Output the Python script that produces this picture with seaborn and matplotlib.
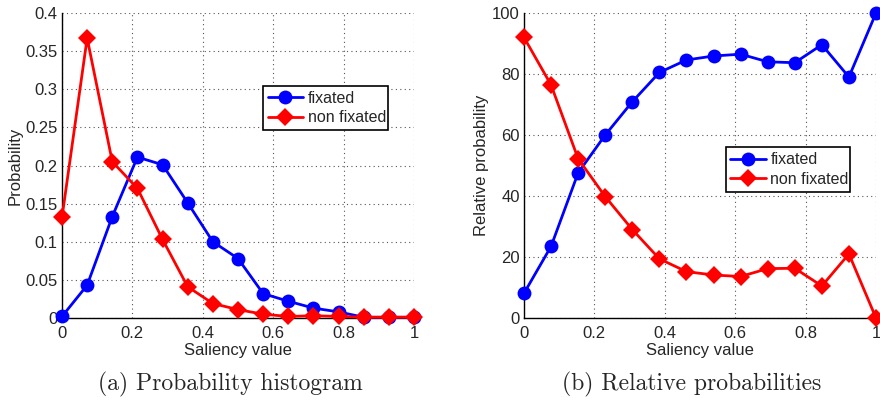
import matplotlib
matplotlib.use("Agg")
import matplotlib.pyplot as plt
import numpy as np
import pandas as pd
import seaborn as sns

# (a) probability histogram, 15 bins
hist_x = np.linspace(0, 1, 15)
hist_fixated = [0.002, 0.043, 0.133, 0.211, 0.201, 0.151, 0.100, 0.078, 0.032,
                0.022, 0.013, 0.008, 0.001, 0.001, 0.001]
hist_non_fixated = [0.132, 0.367, 0.205, 0.170, 0.103, 0.041, 0.019, 0.011, 0.005,
                    0.002, 0.003, 0.002, 0.001, 0.001, 0.001]

# (b) relative probabilities, 14 bins
rel_x = np.linspace(0, 1, 14)
rel_fixated = [8.1, 23.5, 47.6, 60.0, 70.9, 80.5, 84.6, 85.9, 86.5, 84.0, 83.7, 89.6, 79.0, 100.0]
rel_non_fixated = [92.0, 76.4, 52.2, 39.8, 29.0, 19.4, 15.2, 14.1, 13.6, 16.2, 16.3, 10.5, 21.0, 0.0]

labels = ['fixated', 'non fixated']
caption_a = '(a) Probability histogram'
caption_b = '(b) Relative probabilities'


def draw(ax, x, fix, nonfix, ylabel, yticks, yticklabels, ylim, legend_box):
    df = pd.concat([
        pd.DataFrame({'x': x, 'y': fix, 'Type': labels[0]}),
        pd.DataFrame({'x': x, 'y': nonfix, 'Type': labels[1]}),
    ], ignore_index=True)
    sns.lineplot(data=df[df['Type'] == labels[0]], x='x', y='y', ax=ax, color='#0000ff',
                 marker='o', markersize=10, markeredgewidth=0, linewidth=2,
                 label=labels[0], clip_on=False, zorder=3)
    sns.lineplot(data=df[df['Type'] == labels[1]], x='x', y='y', ax=ax, color='#ff0000',
                 marker='D', markersize=9, markeredgewidth=0, linewidth=2,
                 label=labels[1], clip_on=False, zorder=3)

    ax.set_xlim(0, 1)
    ax.set_ylim(*ylim)
    ax.set_xticks([0, 0.2, 0.4, 0.6, 0.8, 1])
    ax.set_xticklabels(['0', '0.2', '0.4', '0.6', '0.8', '1'])
    ax.set_yticks(yticks)
    ax.set_yticklabels(yticklabels)
    ax.grid(True, linestyle=(0, (1, 3)), color='#555555', linewidth=0.8)
    ax.tick_params(direction='in', length=4, labelsize=12, color='black')
    ax.tick_params(axis='x', pad=6)
    ax.tick_params(axis='y', pad=3)
    for side in ['top', 'right']:
        ax.spines[side].set_visible(False)
    for side in ['left', 'bottom']:
        ax.spines[side].set_color('black')
        ax.spines[side].set_linewidth(1.0)
    ax.set_xlabel('Saliency value', fontsize=12, labelpad=1)
    ax.set_ylabel(ylabel, fontsize=12, labelpad=2)
    leg = ax.legend(loc='lower left', bbox_to_anchor=legend_box, mode='expand',
                    fontsize=11.5, frameon=True, fancybox=False, framealpha=1,
                    edgecolor='black', borderpad=0.3, handlelength=2.2,
                    handletextpad=0.3, labelspacing=0.3, borderaxespad=0)
    leg.get_frame().set_linewidth(1.2)


sns.set_style("white")
plt.rcParams['font.family'] = ['Liberation Sans', 'DejaVu Sans']

fig = plt.figure(figsize=(8.8, 4.01), dpi=100)
ax1 = fig.add_axes([62 / 880, 83 / 401, 352 / 880, 305 / 401])
ax2 = fig.add_axes([524 / 880, 83 / 401, 352 / 880, 305 / 401])

draw(ax1, hist_x, hist_fixated, hist_non_fixated, 'Probability',
     np.arange(0, 0.41, 0.05), ['0', '0.05', '0.1', '0.15', '0.2', '0.25', '0.3', '0.35', '0.4'],
     (0, 0.4), (0.571, 0.616, 0.355, 0.164))
draw(ax2, rel_x, rel_fixated, rel_non_fixated, 'Relative probability',
     np.arange(0, 101, 20), ['0', '20', '40', '60', '80', '100'],
     (0, 100), (0.573, 0.414, 0.353, 0.167))

fig.text(230 / 880, 1 - 390 / 401, caption_a, ha='center', va='baseline',
         fontsize=17, family=['cmr10', 'DejaVu Serif'])
fig.text(692 / 880, 1 - 390 / 401, caption_b, ha='center', va='baseline',
         fontsize=17, family=['cmr10', 'DejaVu Serif'])

fig.savefig('out.png', dpi=100)
